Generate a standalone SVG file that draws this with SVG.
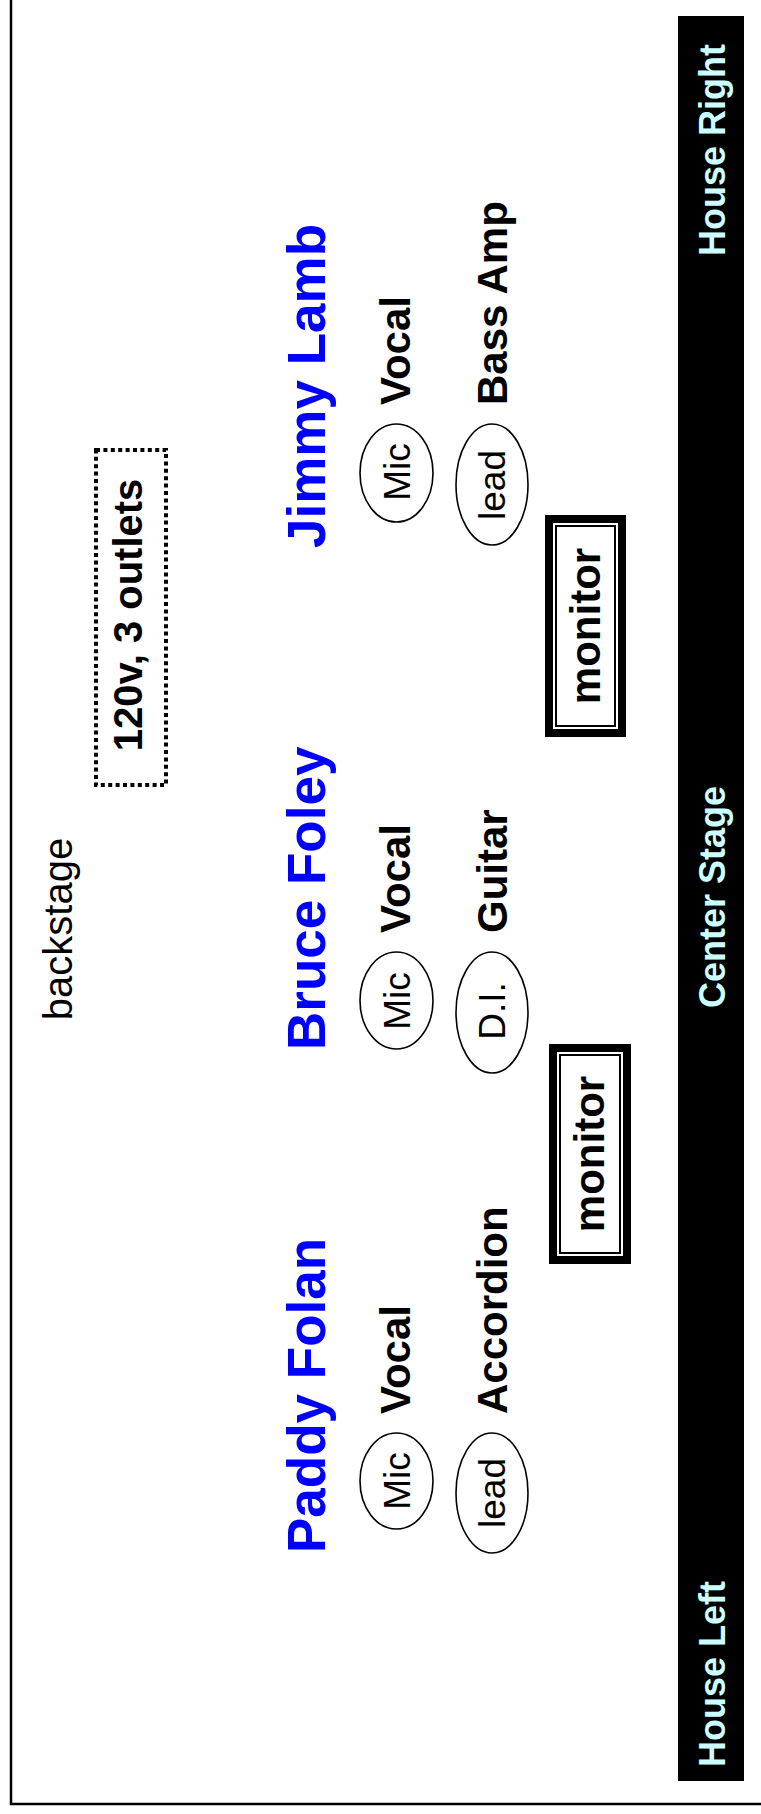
<svg xmlns="http://www.w3.org/2000/svg" width="761" height="1814" viewBox="0 0 761 1814">
<style>
text{font-family:"Liberation Sans",Arial,sans-serif}
.name{font-size:53px;font-weight:bold;fill:#0000ff}
.lbl{font-size:42px;font-weight:bold;fill:#000}
.eq{font-size:37px;fill:#000}
.bar{font-size:36px;font-weight:bold;fill:#ccffff}
.ell{fill:#fff;stroke:#000;stroke-width:1.6}
.mono{fill:#fff;stroke:#000;stroke-width:8}
.moni{fill:none;stroke:#000;stroke-width:2}
</style>
<rect x="11" y="-10" width="800" height="1814" fill="#fff" stroke="#000" stroke-width="2.5"/>
<g id="stage-front">
<rect x="678" y="16" width="66" height="1765" fill="#000"/>
<text class="bar" x="725" y="44" text-anchor="end" transform="rotate(-90 725 44)">House Right</text>
<text class="bar" x="725" y="897" text-anchor="middle" transform="rotate(-90 725 897)">Center Stage</text>
<text class="bar" x="725" y="1767" text-anchor="start" transform="rotate(-90 725 1767)">House Left</text>
</g>
<g id="backstage">
<text x="72" y="929" text-anchor="middle" transform="rotate(-90 72 929)" style="font-size:40px">backstage</text>
</g>
<g id="power">
<rect x="96" y="450" width="70" height="335" fill="none" stroke="#000" stroke-width="4" stroke-dasharray="4 3.4"/>
<text x="142" y="615" text-anchor="middle" transform="rotate(-90 142 615)" style="font-size:40px;font-weight:bold">120v, 3 outlets</text>
</g>
<g id="jimmy">
<text class="name" x="325" y="548" transform="rotate(-90 325 548)">Jimmy Lamb</text>
<ellipse class="ell" cx="396.5" cy="473" rx="36.5" ry="49"/>
<text class="eq" x="410" y="472" text-anchor="middle" transform="rotate(-90 410 472)">Mic</text>
<text class="lbl" x="410" y="405" transform="rotate(-90 410 405)">Vocal</text>
<ellipse class="ell" cx="492" cy="484.5" rx="36" ry="60.5"/>
<text class="eq" x="505" y="485" text-anchor="middle" transform="rotate(-90 505 485)">lead</text>
<text class="lbl" x="507" y="405" transform="rotate(-90 507 405)">Bass Amp</text>
</g>
<g id="bruce">
<text class="name" x="325" y="1050" transform="rotate(-90 325 1050)">Bruce Foley</text>
<ellipse class="ell" cx="396.5" cy="1000.5" rx="36.5" ry="48.5"/>
<text class="eq" x="410" y="1001" text-anchor="middle" transform="rotate(-90 410 1001)">Mic</text>
<text class="lbl" x="410" y="933" transform="rotate(-90 410 933)">Vocal</text>
<ellipse class="ell" cx="492" cy="1012.5" rx="36" ry="60.5"/>
<text class="eq" x="505" y="1011" text-anchor="middle" transform="rotate(-90 505 1011)">D.I.</text>
<text class="lbl" x="507" y="933" transform="rotate(-90 507 933)">Guitar</text>
</g>
<g id="paddy">
<text class="name" x="325" y="1553" transform="rotate(-90 325 1553)">Paddy Folan</text>
<ellipse class="ell" cx="396.5" cy="1481" rx="36.5" ry="48"/>
<text class="eq" x="410" y="1481" text-anchor="middle" transform="rotate(-90 410 1481)">Mic</text>
<text class="lbl" x="410" y="1414" transform="rotate(-90 410 1414)">Vocal</text>
<ellipse class="ell" cx="492" cy="1493" rx="36" ry="60"/>
<text class="eq" x="505" y="1493" text-anchor="middle" transform="rotate(-90 505 1493)">lead</text>
<text class="lbl" x="507" y="1414" transform="rotate(-90 507 1414)">Accordion</text>
</g>
<g id="monitor-right">
<rect class="mono" x="549" y="519" width="73" height="214"/>
<rect class="moni" x="556" y="526" width="59" height="200"/>
<text class="lbl" x="600" y="626" text-anchor="middle" transform="rotate(-90 600 626)">monitor</text>
</g>
<g id="monitor-left">
<rect class="mono" x="553" y="1048" width="74" height="212"/>
<rect class="moni" x="560" y="1055" width="60" height="198"/>
<text class="lbl" x="604" y="1154" text-anchor="middle" transform="rotate(-90 604 1154)">monitor</text>
</g>
<g id="connectors"/>
</svg>
